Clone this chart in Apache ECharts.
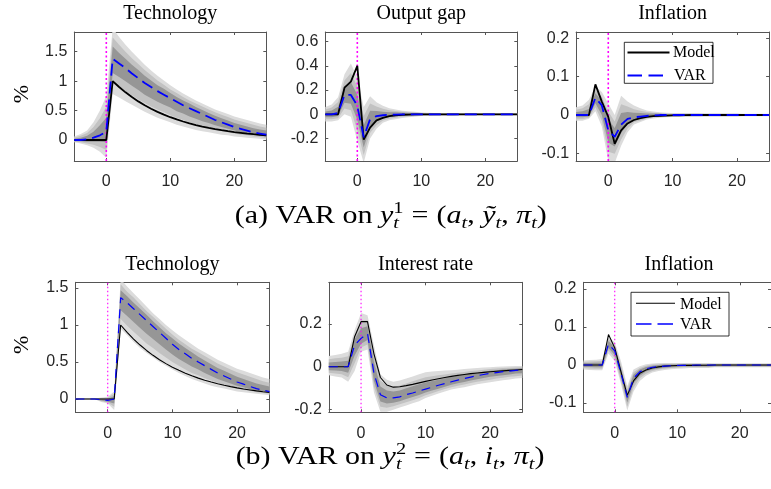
<!DOCTYPE html>
<html>
<head>
<meta charset="utf-8">
<title>Impulse responses: model vs VAR</title>
<script src="https://cdn.jsdelivr.net/npm/echarts@6.0.0/dist/echarts.min.js"></script>
<style>
  html, body { margin: 0; padding: 0; background: #ffffff; }
  #chart { width: 771px; height: 489px; }
</style>
</head>
<body>
<div id="chart"></div>
<script>
// Horizon (quarters relative to the shock)
const periods = [-5,-4,-3,-2,-1,0,1,2,3,4,5,6,7,8,9,10,11,12,13,14,15,16,17,18,19,20,21,22,23,24,25];

// Tick values
const periodTicks = [0, 10, 20];
const techTicks = [0, 0.5, 1, 1.5];
const gapTicks = [-0.2, 0, 0.2, 0.4, 0.6];
const inflTicks = [-0.1, 0, 0.1, 0.2];
const rateTicks = [-0.2, 0, 0.2];

// ---- (a) VAR on (a, y~, pi) ----
const techModelA = [0,0,0,0,0,0,1,0.9,0.81,0.729,0.656,0.59,0.531,0.478,0.43,0.387,0.349,0.314,0.282,0.254,0.229,0.206,0.185,0.167,0.15,0.135,0.122,0.109,0.098,0.089,0.08];
const techVarA   = [0,0,0.01,0.04,0.08,0.14,1.38,1.3,1.22,1.13,1.05,0.97,0.9,0.83,0.77,0.71,0.65,0.59,0.54,0.49,0.44,0.39,0.34,0.3,0.26,0.22,0.19,0.16,0.13,0.11,0.09];
const techHi90A  = [0.06,0.1,0.16,0.3,0.5,0.75,1.9,1.75,1.62,1.5,1.39,1.28,1.18,1.09,1.01,0.93,0.86,0.79,0.73,0.67,0.62,0.57,0.52,0.48,0.44,0.4,0.37,0.34,0.31,0.28,0.26];
const techLo90A  = [-0.04,-0.06,-0.09,-0.13,-0.2,-0.3,0.78,0.72,0.66,0.6,0.54,0.48,0.43,0.38,0.34,0.3,0.26,0.23,0.2,0.17,0.15,0.13,0.11,0.09,0.08,0.06,0.05,0.04,0.03,0.02,0.01];
const techHi80A  = [0.04,0.07,0.12,0.22,0.37,0.57,1.74,1.62,1.5,1.39,1.29,1.19,1.1,1.01,0.94,0.86,0.8,0.73,0.67,0.62,0.57,0.52,0.47,0.43,0.39,0.35,0.32,0.29,0.26,0.23,0.21];
const techLo80A  = [-0.03,-0.04,-0.06,-0.08,-0.12,-0.17,0.96,0.89,0.83,0.76,0.69,0.63,0.57,0.52,0.47,0.42,0.38,0.34,0.3,0.27,0.24,0.21,0.18,0.15,0.13,0.11,0.09,0.08,0.06,0.05,0.03];
const techHi68A  = [0.02,0.04,0.07,0.14,0.25,0.38,1.59,1.48,1.38,1.28,1.19,1.09,1.01,0.93,0.87,0.8,0.73,0.67,0.62,0.56,0.51,0.46,0.41,0.37,0.33,0.29,0.26,0.23,0.2,0.18,0.16];
const techLo68A  = [-0.02,-0.02,-0.03,-0.03,-0.03,-0.04,1.14,1.07,1.0,0.92,0.85,0.77,0.71,0.65,0.6,0.55,0.49,0.45,0.4,0.36,0.32,0.29,0.25,0.22,0.19,0.16,0.13,0.11,0.09,0.07,0.06];

const gapModelA = [0,0,0,0.22,0.27,0.4,-0.21,-0.11,-0.05,-0.03,-0.015,-0.008,-0.004,-0.002,-0.001,0,0,0,0,0,0,0,0,0,0,0,0,0,0,0,0];
const gapVarA   = [0,0,0.01,0.16,0.16,0.07,-0.19,-0.04,-0.015,-0.008,-0.004,-0.002,-0.001,0,0,0,0,0,0,0,0,0,0,0,0,0,0,0,0,0,0];
const gapHi90A  = [0.06,0.08,0.14,0.33,0.42,0.3,0.06,0.15,0.1,0.07,0.05,0.04,0.03,0.025,0.02,0.015,0.012,0.011,0.01,0.01,0.01,0.008,0.008,0.008,0.008,0.008,0.008,0.008,0.008,0.008,0.008];
const gapLo90A  = [-0.06,-0.06,-0.05,0,-0.02,-0.22,-0.4,-0.2,-0.12,-0.07,-0.05,-0.04,-0.03,-0.025,-0.02,-0.015,-0.012,-0.011,-0.01,-0.01,-0.01,-0.008,-0.008,-0.008,-0.008,-0.008,-0.008,-0.008,-0.008,-0.008,-0.008];
const gapHi80A  = [0.04,0.056,0.101,0.279,0.342,0.231,-0.015,0.09,0.064,0.046,0.034,0.028,0.021,0.018,0.014,0.011,0.009,0.008,0.007,0.007,0.007,0.006,0.006,0.006,0.006,0.006,0.006,0.006,0.006,0.006,0.006];
const gapLo80A  = [-0.04,-0.042,-0.032,0.048,0.034,-0.133,-0.337,-0.155,-0.09,-0.052,-0.036,-0.028,-0.021,-0.018,-0.014,-0.011,-0.009,-0.008,-0.007,-0.007,-0.007,-0.006,-0.006,-0.006,-0.006,-0.006,-0.006,-0.006,-0.006,-0.006,-0.006];
const gapHi68A  = [0.024,0.032,0.062,0.228,0.264,0.162,-0.09,0.03,0.028,0.022,0.017,0.016,0.012,0.01,0.008,0.006,0.005,0.005,0.004,0.004,0.004,0.004,0.004,0.004,0.004,0.004,0.004,0.004,0.004,0.004,0.004];
const gapLo68A  = [-0.024,-0.024,-0.014,0.096,0.088,-0.046,-0.274,-0.11,-0.06,-0.034,-0.023,-0.016,-0.012,-0.01,-0.008,-0.006,-0.005,-0.005,-0.004,-0.004,-0.004,-0.004,-0.004,-0.004,-0.004,-0.004,-0.004,-0.004,-0.004,-0.004,-0.004];

const inflModelA = [0,0,0,0.08,0.035,-0.005,-0.075,-0.04,-0.022,-0.013,-0.008,-0.005,-0.003,-0.002,-0.0015,-0.001,-0.001,-0.0005,0,0,0,0,0,0,0,0,0,0,0,0,0];
const inflVarA   = [0,0,0,0.045,0.025,-0.04,-0.057,-0.025,-0.01,-0.006,-0.004,-0.002,-0.001,0,0,0,0,0,0,0,0,0,0,0,0,0,0,0,0,0,0];
const inflHi90A  = [0.02,0.025,0.04,0.075,0.06,0.03,0,0.05,0.035,0.025,0.018,0.012,0.009,0.007,0.006,0.005,0.005,0.005,0.005,0.005,0.004,0.004,0.004,0.004,0.004,0.004,0.003,0.003,0.003,0.003,0.003];
const inflLo90A  = [-0.015,-0.015,-0.01,0.01,-0.03,-0.12,-0.125,-0.08,-0.045,-0.025,-0.018,-0.012,-0.009,-0.007,-0.006,-0.005,-0.005,-0.005,-0.005,-0.005,-0.004,-0.004,-0.004,-0.004,-0.004,-0.004,-0.003,-0.003,-0.003,-0.003,-0.003];
const inflHi80A  = [0.014,0.018,0.028,0.066,0.048,0.009,-0.017,0.028,0.022,0.015,0.011,0.008,0.006,0.005,0.004,0.003,0.003,0.003,0.003,0.003,0.003,0.003,0.003,0.003,0.003,0.003,0.002,0.002,0.002,0.002,0.002];
const inflLo80A  = [-0.011,-0.011,-0.007,0.02,-0.015,-0.096,-0.101,-0.064,-0.035,-0.019,-0.014,-0.009,-0.006,-0.005,-0.004,-0.003,-0.003,-0.003,-0.003,-0.003,-0.003,-0.003,-0.003,-0.003,-0.003,-0.003,-0.002,-0.002,-0.002,-0.002,-0.002];
const inflHi68A  = [0.008,0.01,0.016,0.057,0.036,-0.012,-0.034,0.005,0.008,0.006,0.005,0.004,0.004,0.003,0.002,0.002,0.002,0.002,0.002,0.002,0.002,0.002,0.002,0.002,0.002,0.002,0.001,0.001,0.001,0.001,0.001];
const inflLo68A  = [-0.006,-0.006,-0.004,0.031,0,-0.072,-0.082,-0.047,-0.024,-0.014,-0.01,-0.006,-0.004,-0.003,-0.002,-0.002,-0.002,-0.002,-0.002,-0.002,-0.002,-0.002,-0.002,-0.002,-0.002,-0.002,-0.001,-0.001,-0.001,-0.001,-0.001];

// ---- (b) VAR on (a, i, pi) ----
const techModelB = [0,0,0,0,0,0,0,1,0.9,0.81,0.729,0.656,0.59,0.531,0.478,0.43,0.387,0.349,0.314,0.282,0.254,0.229,0.206,0.185,0.167,0.15,0.135,0.122,0.109,0.098,0.089];
const techVarB   = [0,0,0,0,-0.01,-0.02,0,1.37,1.3,1.22,1.14,1.06,0.98,0.9,0.82,0.74,0.67,0.61,0.55,0.5,0.45,0.4,0.35,0.31,0.27,0.23,0.2,0.17,0.14,0.12,0.1];
const techHi90B  = [0.005,0.005,0.005,0.005,0.02,0.03,0.1,1.62,1.52,1.43,1.34,1.25,1.16,1.08,1.0,0.93,0.86,0.8,0.74,0.68,0.63,0.58,0.53,0.49,0.45,0.41,0.38,0.35,0.32,0.29,0.27];
const techLo90B  = [-0.005,-0.005,-0.005,-0.005,-0.04,-0.06,-0.15,0.95,0.86,0.77,0.69,0.62,0.56,0.5,0.45,0.4,0.35,0.31,0.27,0.24,0.21,0.18,0.16,0.14,0.12,0.1,0.09,0.08,0.07,0.06,0.05];
const techHi80B  = [0.004,0.004,0.004,0.004,0.011,0.015,0.07,1.55,1.45,1.37,1.28,1.19,1.11,1.03,0.95,0.87,0.8,0.74,0.68,0.63,0.58,0.53,0.48,0.44,0.4,0.36,0.33,0.3,0.27,0.24,0.22];
const techLo80B  = [-0.004,-0.004,-0.004,-0.004,-0.031,-0.048,-0.105,1.08,0.99,0.91,0.83,0.75,0.69,0.62,0.56,0.5,0.45,0.4,0.35,0.32,0.28,0.25,0.22,0.19,0.17,0.14,0.12,0.11,0.09,0.08,0.07];
const techHi68B  = [0.002,0.002,0.002,0.002,0.002,0,0.04,1.47,1.39,1.3,1.22,1.14,1.05,0.97,0.89,0.82,0.75,0.69,0.63,0.57,0.52,0.47,0.42,0.38,0.34,0.3,0.27,0.24,0.21,0.19,0.17];
const techLo68B  = [-0.002,-0.002,-0.002,-0.002,-0.022,-0.036,-0.06,1.2,1.12,1.04,0.96,0.88,0.81,0.74,0.67,0.6,0.54,0.49,0.44,0.4,0.35,0.31,0.27,0.24,0.21,0.18,0.16,0.13,0.11,0.1,0.08];

const rateModelB = [0,0,0,0,0.14,0.21,0.21,0.06,-0.05,-0.085,-0.095,-0.093,-0.088,-0.082,-0.075,-0.068,-0.062,-0.056,-0.05,-0.045,-0.04,-0.036,-0.032,-0.029,-0.026,-0.023,-0.021,-0.019,-0.017,-0.015,-0.013];
const rateVarB   = [0,0,0,0,0.1,0.132,0.155,-0.03,-0.13,-0.145,-0.145,-0.14,-0.13,-0.122,-0.113,-0.104,-0.095,-0.086,-0.078,-0.07,-0.062,-0.055,-0.048,-0.042,-0.036,-0.031,-0.027,-0.023,-0.02,-0.017,-0.015];
const rateHi90B  = [0.05,0.055,0.06,0.07,0.17,0.25,0.24,0.1,-0.035,-0.06,-0.07,-0.064,-0.055,-0.045,-0.035,-0.026,-0.022,-0.02,-0.018,-0.016,-0.014,-0.01,-0.008,-0.006,-0.004,-0.002,0,0.001,0.002,0.003,0.004];
const rateLo90B  = [-0.04,-0.045,-0.05,-0.07,-0.02,0.07,0.08,-0.12,-0.21,-0.21,-0.2,-0.19,-0.18,-0.17,-0.16,-0.145,-0.135,-0.125,-0.115,-0.106,-0.1,-0.095,-0.088,-0.082,-0.077,-0.072,-0.067,-0.063,-0.059,-0.055,-0.052];
const rateHi80B  = [0.035,0.039,0.042,0.049,0.149,0.215,0.215,0.061,-0.064,-0.086,-0.093,-0.087,-0.078,-0.068,-0.058,-0.049,-0.044,-0.04,-0.036,-0.032,-0.028,-0.024,-0.02,-0.017,-0.014,-0.011,-0.008,-0.006,-0.005,-0.003,-0.002];
const rateLo80B  = [-0.028,-0.032,-0.035,-0.049,0.016,0.089,0.103,-0.093,-0.186,-0.191,-0.184,-0.175,-0.165,-0.156,-0.146,-0.133,-0.123,-0.113,-0.104,-0.095,-0.089,-0.083,-0.076,-0.07,-0.065,-0.06,-0.055,-0.051,-0.047,-0.044,-0.041];
const rateHi68B  = [0.02,0.022,0.024,0.028,0.128,0.179,0.189,0.022,-0.092,-0.111,-0.115,-0.11,-0.1,-0.091,-0.082,-0.073,-0.066,-0.06,-0.054,-0.048,-0.043,-0.037,-0.032,-0.028,-0.023,-0.019,-0.016,-0.013,-0.011,-0.009,-0.007];
const rateLo68B  = [-0.016,-0.018,-0.02,-0.028,0.052,0.107,0.125,-0.066,-0.162,-0.171,-0.167,-0.16,-0.15,-0.141,-0.132,-0.12,-0.111,-0.102,-0.093,-0.084,-0.077,-0.071,-0.064,-0.058,-0.052,-0.047,-0.043,-0.039,-0.036,-0.032,-0.03];

const inflModelB = [0,0,0,0,0.08,0.045,-0.018,-0.08,-0.042,-0.022,-0.013,-0.008,-0.005,-0.003,-0.002,-0.0015,-0.001,-0.001,-0.001,-0.0005,-0.0005,0,0,0,0,0,0,0,0,0,0];
const inflVarB   = [0,0,0,0,0.055,0.037,-0.022,-0.085,-0.035,-0.018,-0.01,-0.006,-0.004,-0.003,-0.002,-0.001,-0.001,-0.001,0,0,0,0,0,0,0,0,0,0,0,0,0];
const inflHi90B  = [0.012,0.013,0.014,0.016,0.075,0.06,0.01,-0.055,-0.012,-0.003,0.002,0.004,0.005,0.005,0.005,0.005,0.005,0.005,0.005,0.005,0.005,0.004,0.004,0.004,0.004,0.004,0.004,0.004,0.004,0.004,0.004];
const inflLo90B  = [-0.012,-0.013,-0.014,-0.014,0.03,0.01,-0.05,-0.12,-0.07,-0.042,-0.028,-0.02,-0.016,-0.013,-0.011,-0.01,-0.009,-0.008,-0.008,-0.008,-0.008,-0.006,-0.006,-0.006,-0.006,-0.006,-0.006,-0.006,-0.006,-0.006,-0.006];
const inflHi80B  = [0.008,0.009,0.01,0.011,0.069,0.053,0,-0.064,-0.019,-0.008,-0.002,0.001,0.002,0.003,0.003,0.003,0.003,0.003,0.003,0.003,0.003,0.003,0.003,0.003,0.003,0.003,0.003,0.003,0.003,0.003,0.003];
const inflLo80B  = [-0.008,-0.009,-0.01,-0.01,0.038,0.018,-0.042,-0.11,-0.06,-0.035,-0.023,-0.016,-0.012,-0.01,-0.008,-0.007,-0.006,-0.006,-0.006,-0.006,-0.006,-0.004,-0.004,-0.004,-0.004,-0.004,-0.004,-0.004,-0.004,-0.004,-0.004];
const inflHi68B  = [0.005,0.005,0.006,0.006,0.063,0.046,-0.009,-0.073,-0.026,-0.012,-0.005,-0.002,0,0.001,0.001,0.001,0.001,0.002,0.002,0.002,0.002,0.001,0.001,0.001,0.001,0.001,0.001,0.001,0.001,0.001,0.001];
const inflLo68B  = [-0.005,-0.005,-0.006,-0.006,0.045,0.026,-0.033,-0.099,-0.049,-0.028,-0.017,-0.012,-0.009,-0.007,-0.006,-0.005,-0.004,-0.004,-0.004,-0.004,-0.004,-0.003,-0.003,-0.003,-0.003,-0.003,-0.003,-0.003,-0.003,-0.003,-0.003];

// ---- styling ----
const SERIF = '"Liberation Serif", "Times New Roman", serif';
const SANS = '"Liberation Sans", Arial, sans-serif';
const AXIS_COLOR = '#555555';
const LABEL_COLOR = '#262626';
const BAND_COLORS = ['#dcdcdc', '#c2c2c2', '#969696'];

const panels = [
  { title: 'Technology', box: [74.3, 32, 192, 129], y: [-0.357, 1.835], ticks: techTicks, unit: true,
    model: techModelA, irf: techVarA, bands: [[techLo90A, techHi90A], [techLo80A, techHi80A], [techLo68A, techHi68A]], heavy: true },
  { title: 'Output gap', box: [325.3, 32, 192, 129], y: [-0.386, 0.68], ticks: gapTicks,
    model: gapModelA, irf: gapVarA, bands: [[gapLo90A, gapHi90A], [gapLo80A, gapHi80A], [gapLo68A, gapHi68A]], heavy: true },
  { title: 'Inflation', box: [576.1, 32, 193, 129], y: [-0.12, 0.2167], ticks: inflTicks,
    model: inflModelA, irf: inflVarA, bands: [[inflLo90A, inflHi90A], [inflLo80A, inflHi80A], [inflLo68A, inflHi68A]], heavy: true },
  { title: 'Technology', box: [75.4, 282.3, 194, 130], y: [-0.18, 1.577], ticks: techTicks, unit: true,
    model: techModelB, irf: techVarB, bands: [[techLo90B, techHi90B], [techLo80B, techHi80B], [techLo68B, techHi68B]], heavy: false },
  { title: 'Interest rate', box: [328.8, 282.3, 193.5, 130], y: [-0.212, 0.393], ticks: rateTicks,
    model: rateModelB, irf: rateVarB, bands: [[rateLo90B, rateHi90B], [rateLo80B, rateHi80B], [rateLo68B, rateHi68B]], heavy: false },
  { title: 'Inflation', box: [583.5, 282.3, 191, 130], y: [-0.1245, 0.2176], ticks: inflTicks,
    model: inflModelB, irf: inflVarB, bands: [[inflLo90B, inflHi90B], [inflLo80B, inflHi80B], [inflLo68B, inflHi68B]], heavy: false }
];

// text measuring for hand-placed labels (baseline alignment across sizes)
const measureCtx = document.createElement('canvas').getContext('2d');
function fontOf(size, italic) { return (italic ? 'italic ' : '') + size + 'px ' + SERIF; }
function middleToBaseline(size, italic) {
  measureCtx.font = fontOf(size, italic);
  measureCtx.textBaseline = 'alphabetic';
  const a = measureCtx.measureText('Hg').fontBoundingBoxAscent;
  measureCtx.textBaseline = 'middle';
  const m = measureCtx.measureText('Hg').fontBoundingBoxAscent;
  measureCtx.textBaseline = 'alphabetic';
  return (isFinite(a) && isFinite(m)) ? (a - m) : size * 0.3;
}
function widthOf(text, size, italic) {
  measureCtx.font = fontOf(size, italic);
  return measureCtx.measureText(text).width;
}
function serifText(text, x, baseline, size, opts) {
  opts = opts || {};
  return {
    type: 'text', z: 100, x: x, y: baseline - middleToBaseline(size, opts.italic), silent: true,
    rotation: opts.rotation || 0, scaleX: opts.scaleX || 1,
    style: { text: text, font: fontOf(size, opts.italic), fill: opts.fill || '#000',
             align: opts.align || 'left', verticalAlign: 'middle' }
  };
}

// a line of math-like text laid out left to right, centred on cx
const CAPTION_STRETCH = 1.2;
function formulaLine(parts, cx, baseline) {
  const items = parts.map(p => {
    const group = p.stack || [p];
    const w = Math.max.apply(null, group.map(g => widthOf(g.text, g.size, g.italic))) * CAPTION_STRETCH + (p.pad || 0);
    return { group, w, pad: p.padLeft || 0 };
  });
  const total = items.reduce((s, it) => s + it.w + it.pad, 0);
  let x = cx - total / 2;
  const out = [];
  items.forEach(it => {
    x += it.pad;
    it.group.forEach(g => out.push(serifText(g.text, x, baseline + (g.rise || 0), g.size,
                                             { italic: g.italic, scaleX: CAPTION_STRETCH })));
    x += it.w;
  });
  return out;
}

const CAP = 25, SUB = 17;
function caption(tag, sup, second, cx, baseline) {
  return formulaLine([
    { text: '(' + tag + ') VAR on ', size: CAP },
    { text: 'y', size: CAP, italic: true },
    { stack: [ { text: sup, size: SUB, rise: -10 }, { text: 't', size: SUB, italic: true, rise: 5 } ] },
    { text: '=', size: CAP, padLeft: 8, pad: 8 },
    { text: '(', size: CAP },
    { text: 'a', size: CAP, italic: true },
    { text: 't', size: SUB, italic: true, rise: 5 },
    { text: ', ', size: CAP },
    { text: second, size: CAP, italic: true },
    { text: 't', size: SUB, italic: true, rise: 5 },
    { text: ', ', size: CAP },
    { text: 'π', size: CAP, italic: true },
    { text: 't', size: SUB, italic: true, rise: 5 },
    { text: ')', size: CAP }
  ], cx, baseline);
}

const grid = [], xAxis = [], yAxis = [], series = [], graphic = [];

function bandSeries(axisIndex, lo, hi, color) {
  return {
    type: 'custom', xAxisIndex: axisIndex, yAxisIndex: axisIndex, silent: true, clip: true, z: 1,
    data: periods.map((t, j) => [t, lo[j], hi[j]]),
    encode: { x: 0, y: [1, 2] },
    renderItem: function (params, api) {
      if (params.dataIndex !== 0) return null;
      const pts = [];
      for (let j = 0; j < periods.length; j++) pts.push(api.coord([periods[j], hi[j]]));
      for (let j = periods.length - 1; j >= 0; j--) pts.push(api.coord([periods[j], lo[j]]));
      return { type: 'polygon', shape: { points: pts }, style: { fill: color, stroke: null } };
    }
  };
}

panels.forEach((p, i) => {
  const [left, top, width, height] = p.box;
  grid.push({ left: left, top: top, width: width, height: height });
  const axisLine = { show: true, onZero: false, lineStyle: { color: AXIS_COLOR, width: 1 } };
  const labelStyle = { color: LABEL_COLOR, fontFamily: SANS, fontSize: 16 };
  const xTick = { show: true, inside: true, length: 3, customValues: periodTicks, lineStyle: { color: AXIS_COLOR } };
  const yTick = { show: true, inside: true, length: 3, customValues: p.ticks, lineStyle: { color: AXIS_COLOR } };

  xAxis.push({ gridIndex: i, type: 'value', min: -5, max: 25, position: 'bottom', axisLine, axisTick: xTick,
               axisLabel: Object.assign({ customValues: periodTicks, margin: 13 }, labelStyle), splitLine: { show: false } });
  xAxis.push({ gridIndex: i, type: 'value', min: -5, max: 25, position: 'top', axisLine, axisTick: xTick,
               axisLabel: { show: false }, splitLine: { show: false } });
  yAxis.push({ gridIndex: i, type: 'value', min: p.y[0], max: p.y[1], position: 'left', axisLine, axisTick: yTick,
               axisLabel: Object.assign({ customValues: p.ticks, margin: 7 }, labelStyle), splitLine: { show: false } });
  yAxis.push({ gridIndex: i, type: 'value', min: p.y[0], max: p.y[1], position: 'right', axisLine, axisTick: yTick,
               axisLabel: { show: false }, splitLine: { show: false } });

  const ax = 2 * i;
  p.bands.forEach((b, k) => series.push(bandSeries(ax, b[0], b[1], BAND_COLORS[k])));

  // shock date marker
  series.push({
    type: 'line', xAxisIndex: ax, yAxisIndex: ax, silent: true, symbol: 'none', z: 2,
    data: [[0, p.y[0]], [0, p.y[1]]],
    lineStyle: { color: '#ff00ff', width: p.heavy ? 1.6 : 1.1, type: p.heavy ? [2, 2.5] : [1.5, 2.5] }
  });
  series.push({
    name: 'Model', type: 'line', xAxisIndex: ax, yAxisIndex: ax, silent: true, symbol: 'none', z: 3,
    data: periods.map((t, j) => [t, p.model[j]]),
    lineStyle: { color: '#000000', width: p.heavy ? 1.8 : 1.1 }
  });
  series.push({
    name: 'VAR', type: 'line', xAxisIndex: ax, yAxisIndex: ax, silent: true, symbol: 'none', z: 4,
    data: periods.map((t, j) => [t, p.irf[j]]),
    lineStyle: { color: '#0000ff', width: p.heavy ? 1.8 : 1.2, type: p.heavy ? [12, 6] : [9, 6] }
  });

  // panel title
  const titleBase = top - 12.7;
  graphic.push(serifText(p.title, left + width / 2, titleBase, 20, { align: 'center' }));

  // unit label
  if (p.unit) {
    graphic.push({
      type: 'text', z: 100, x: 22.5, y: top + height / 2 - 2.5, rotation: Math.PI / 2, silent: true,
      style: { text: '%', font: '22px ' + SERIF, fill: '#000', align: 'center', verticalAlign: 'middle' }
    });
  }
});

// legends
function legendBox(x, y, w, h, rows) {
  const els = [{ type: 'rect', z: 99, silent: true, shape: { x: x, y: y, width: w, height: h },
                 style: { fill: '#ffffff', stroke: '#000000', lineWidth: 0.8 } }];
  rows.forEach(r => {
    els.push({ type: 'line', z: 100, silent: true, shape: { x1: r.x1, y1: r.y, x2: r.x2, y2: r.y },
               style: { stroke: r.color, lineWidth: r.width, lineDash: r.dash || null } });
    els.push(serifText(r.label, r.tx, r.base, 16));
  });
  return els;
}
graphic.push.apply(graphic, legendBox(624.3, 42.3, 88.7, 41, [
  { label: 'Model', color: '#000000', width: 1.8, x1: 627.5, x2: 669.5, y: 52.5, tx: 673, base: 57.3 },
  { label: 'VAR', color: '#0000ff', width: 1.8, dash: [14.5, 6.5], x1: 627.5, x2: 669.5, y: 75.5, tx: 674, base: 80 }
]));
graphic.push.apply(graphic, legendBox(631, 292.3, 98, 43.7, [
  { label: 'Model', color: '#000000', width: 1.1, x1: 636, x2: 675, y: 303.3, tx: 680, base: 309 },
  { label: 'VAR', color: '#0000ff', width: 1.3, dash: [15.5, 6], x1: 636, x2: 675, y: 324, tx: 680, base: 329 }
]));

// sub-figure captions
graphic.push.apply(graphic, caption('a', '1', 'ỹ', 390.8, 222.7));
graphic.push.apply(graphic, caption('b', '2', 'i', 390, 464));

const chart = echarts.init(document.getElementById('chart'), null, { renderer: 'canvas' });
chart.setOption({
  backgroundColor: '#ffffff',
  animation: false,
  grid: grid,
  xAxis: xAxis,
  yAxis: yAxis,
  series: series,
  graphic: { elements: graphic }
});
</script>
</body>
</html>
